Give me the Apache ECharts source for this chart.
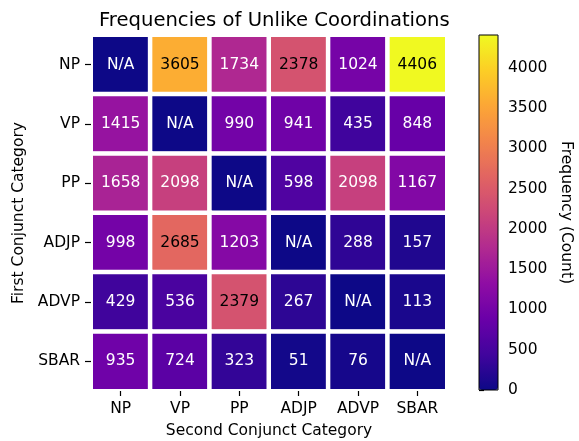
<!DOCTYPE html>
<html>
<head>
<meta charset="utf-8">
<script src="https://cdn.jsdelivr.net/npm/echarts@6/dist/echarts.min.js"></script>
<style>
  html, body { margin: 0; padding: 0; background: #fff; }
  #chart { width: 579px; height: 441px; }
</style>
</head>
<body>
<div id="chart"></div>
<script>
// categories (first conjunct = rows, second conjunct = columns)
const secondCats = ['NP', 'VP', 'PP', 'ADJP', 'ADVP', 'SBAR'];
const firstCats = ['NP', 'VP', 'PP', 'ADJP', 'ADVP', 'SBAR'];

// counts, null = N/A
const rowNP   = [null, 3605, 1734, 2378, 1024, 4406];
const rowVP   = [1415, null, 990, 941, 435, 848];
const rowPP   = [1658, 2098, null, 598, 2098, 1167];
const rowADJP = [998, 2685, 1203, null, 288, 157];
const rowADVP = [429, 536, 2379, 267, null, 113];
const rowSBAR = [935, 724, 323, 51, 76, null];

const colorbarTicks = [0, 500, 1000, 1500, 2000, 2500, 3000, 3500, 4000];
const maxCount = 4406;

const plasma = ['#0d0887', '#41049d', '#6a00a8', '#8f0da4', '#b12a90',
  '#cc4778', '#e16462', '#f2844b', '#fca636', '#fcce25', '#f0f921'];

const rows = [rowNP, rowVP, rowPP, rowADJP, rowADVP, rowSBAR];
const cells = [];
rows.forEach((row, i) => {
  row.forEach((v, j) => {
    cells.push({
      value: [j, i, v == null ? 0 : v],
      na: v == null,
      label: { color: v != null && v > maxCount / 2 ? '#000' : '#fff' }
    });
  });
});

const font = 'DejaVu Sans';
const fs = 15.5;
const myChart = echarts.init(document.getElementById('chart'));

const option = {
  animation: false,
  textStyle: { fontFamily: font },
  title: {
    text: 'Frequencies of Unlike Coordinations',
    left: 94,
    top: 6,
    textStyle: { fontFamily: font, fontSize: 19.6, fontWeight: 'normal', color: '#000' }
  },
  grid: [
    { left: 91, top: 35, width: 356, height: 356, outerBoundsMode: 'none', containLabel: false },
    { left: 479, top: 35, width: 19, height: 355, outerBoundsMode: 'none', containLabel: false }
  ],
  xAxis: [
    {
      type: 'category',
      data: secondCats,
      gridIndex: 0,
      z: 5,
      name: 'Second Conjunct Category',
      nameLocation: 'middle',
      nameGap: 32,
      nameTextStyle: { fontFamily: font, fontSize: fs, color: '#000' },
      axisLine: { show: true, lineStyle: { color: 'rgba(0,0,0,0)' } },
      axisTick: { show: true, alignWithLabel: true, length: 5, lineStyle: { color: '#000', width: 1.2 } },
      axisLabel: { fontFamily: font, fontSize: fs, color: '#000', margin: 10 },
      splitArea: { show: false }
    },
    { type: 'value', gridIndex: 1, show: false, min: 0, max: 1 }
  ],
  yAxis: [
    {
      type: 'category',
      data: firstCats,
      inverse: true,
      gridIndex: 0,
      z: 5,
      name: 'First Conjunct Category',
      nameLocation: 'middle',
      nameGap: 60,
      nameRotate: 90,
      nameTextStyle: { fontFamily: font, fontSize: fs, color: '#000' },
      axisLine: { show: true, lineStyle: { color: 'rgba(0,0,0,0)' } },
      axisTick: { show: true, alignWithLabel: true, length: 6, lineStyle: { color: '#000', width: 1.2 } },
      axisLabel: { fontFamily: font, fontSize: fs, color: '#000', margin: 11 },
      splitArea: { show: false }
    },
    {
      type: 'value',
      gridIndex: 1,
      position: 'right',
      min: 0,
      max: maxCount,
      name: 'Frequency (Count)',
      nameLocation: 'middle',
      nameGap: 60,
      nameRotate: -90,
      nameTextStyle: { fontFamily: font, fontSize: fs, color: '#000' },
      axisLine: { show: false },
      splitLine: { show: false },
      axisTick: { show: true, length: 5, customValues: colorbarTicks, lineStyle: { color: '#000', width: 1.2 } },
      axisLabel: {
        fontFamily: font, fontSize: fs, color: '#000', margin: 10,
        customValues: colorbarTicks,
        formatter: v => String(v)
      }
    }
  ],
  visualMap: {
    type: 'continuous',
    min: 0,
    max: maxCount,
    seriesIndex: 0,
    calculable: false,
    hoverLink: false,
    orient: 'vertical',
    left: 479,
    top: 35,
    padding: 0,
    itemWidth: 19,
    itemHeight: 355,
    inRange: { color: plasma }
  },
  graphic: [{
    type: 'rect',
    z: 100,
    shape: { x: 479, y: 35, width: 19, height: 355 },
    style: { fill: 'none', stroke: '#000', lineWidth: 1 }
  }],
  series: [{
    type: 'heatmap',
    xAxisIndex: 0,
    yAxisIndex: 0,
    data: cells,
    itemStyle: { borderColor: '#fff', borderWidth: 4.5 },
    label: {
      show: true,
      fontFamily: font,
      fontSize: fs,
      formatter: p => p.data.na ? 'N/A' : String(p.value[2])
    }
  }]
};

option && myChart.setOption(option);
</script>
</body>
</html>
